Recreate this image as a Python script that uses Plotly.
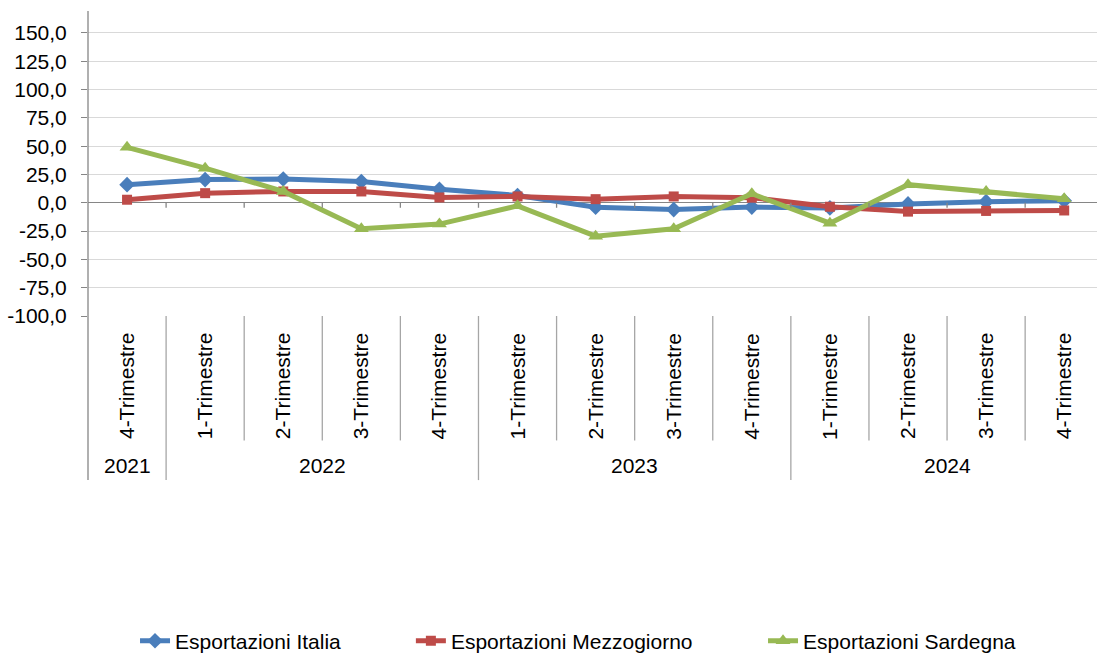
import plotly.graph_objects as go

quarters = ["4-Trimestre", "1-Trimestre", "2-Trimestre", "3-Trimestre", "4-Trimestre",
            "1-Trimestre", "2-Trimestre", "3-Trimestre", "4-Trimestre",
            "1-Trimestre", "2-Trimestre", "3-Trimestre", "4-Trimestre"]
years = ["2021", "2022", "2022", "2022", "2022", "2023", "2023", "2023", "2023",
         "2024", "2024", "2024", "2024"]

italia = [16.0, 20.5, 21.0, 18.8, 12.0, 6.5, -4.0, -6.0, -3.8, -4.5, -1.0, 1.0, 1.8]
mezzogiorno = [2.7, 8.5, 10.0, 10.0, 4.7, 5.6, 3.2, 5.6, 4.5, -3.5, -7.8, -7.2, -6.8]
sardegna = [49.0, 30.6, 10.0, -23.0, -18.8, -2.7, -29.5, -23.0, 8.0, -18.0, 16.0, 10.0, 3.5]

y_ticks = [-100, -75, -50, -25, 0, 25, 50, 75, 100, 125, 150]
y_ticktext = [f"{v:.1f}".replace(".", ",") for v in y_ticks]

FONT = "Liberation Sans, Arial, sans-serif"
FS = 21
GRAY = "#868686"
SEP = "#a6a6a6"

x = list(range(len(quarters)))

fig = go.Figure()
series = [
    ("Esportazioni Italia", italia, "#4a7ebb", "diamond", 12, "legend"),
    ("Esportazioni Mezzogiorno", mezzogiorno, "#be4b48", "square", 10, "legend2"),
    ("Esportazioni Sardegna", sardegna, "#98b954", "triangle-up", 13, "legend3"),
]
for name, vals, col, sym, ms, lg in series:
    fig.add_trace(go.Scatter(
        x=x, y=vals, name=name, mode="lines+markers",
        line=dict(color=col, width=5),
        marker=dict(symbol=sym, size=ms, color=col),
        legend=lg,
    ))

shapes = []
shapes.append(dict(type="line", xref="paper", yref="paper", x0=0, x1=0, y0=-0.538, y1=1,
                   line=dict(color=GRAY, width=1.3)))
n = len(quarters)
for i in range(n):
    b = i + 0.5
    shapes.append(dict(type="line", xref="x", yref="y", x0=b, x1=b, y0=0, y1=-4.4,
                       line=dict(color=GRAY, width=1.3)))
    if i < n - 1:
        full = years[i] != years[i + 1]
        shapes.append(dict(type="line", xref="x", yref="paper", x0=b, x1=b,
                           y0=-0.538 if full else -0.408, y1=0,
                           line=dict(color=SEP, width=1.3)))

annotations = []
for i, q in enumerate(quarters):
    annotations.append(dict(x=i, xref="x", y=-0.2295, yref="paper", text=q,
                            textangle=-90, showarrow=False, xanchor="center", yanchor="middle",
                            font=dict(family=FONT, size=FS, color="#000000")))
uniq = []
for yv in years:
    if yv not in uniq:
        uniq.append(yv)
for yv in uniq:
    idx = [i for i, v in enumerate(years) if v == yv]
    annotations.append(dict(x=(idx[0] + idx[-1]) / 2, xref="x", y=-0.4918, yref="paper",
                            text=yv, showarrow=False, xanchor="center", yanchor="middle",
                            font=dict(family=FONT, size=FS, color="#000000")))

leg_common = dict(orientation="h", xanchor="left", y=-1.066, yanchor="middle",
                  font=dict(family=FONT, size=FS, color="#000000"),
                  bgcolor="rgba(0,0,0,0)")
fig.update_layout(
    width=1097, height=654,
    margin=dict(l=88, r=0, t=11, b=338, autoexpand=False),
    plot_bgcolor="white", paper_bgcolor="white",
    font=dict(family=FONT, size=FS, color="#000000"),
    showlegend=True,
    legend=dict(x=0.0466, **leg_common),
    legend2=dict(x=0.320, **leg_common),
    legend3=dict(x=0.669, **leg_common),
    shapes=shapes,
    annotations=annotations,
)
fig.update_xaxes(range=[-0.5, 12.42], showgrid=False, zeroline=False, showticklabels=False,
                 showline=False, ticks="", automargin=False)
fig.update_yaxes(range=[-100, 169.4], tickvals=y_ticks, ticktext=y_ticktext,
                 showgrid=True, gridcolor="#d9d9d9", gridwidth=1.3,
                 zeroline=True, zerolinecolor=GRAY, zerolinewidth=1.3,
                 showline=False, ticks="outside", ticklen=6, tickcolor=GRAY, tickwidth=1.3,
                 ticklabelstandoff=10, automargin=False,
                 tickfont=dict(family=FONT, size=FS, color="#000000"))

fig.write_html("out.html",
               config={"displayModeBar": False},
               post_script="document.body.style.margin='0';document.body.style.padding='0';"
                           "document.documentElement.style.overflow='hidden';")
